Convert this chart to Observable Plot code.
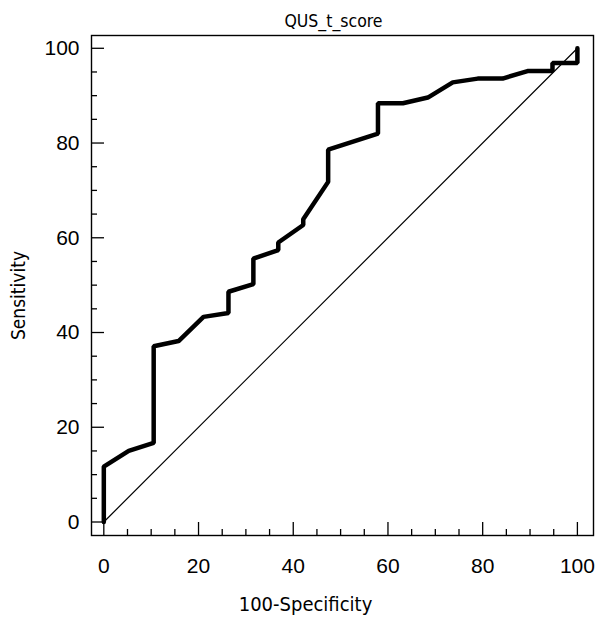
<!DOCTYPE html>
<html>
<head>
<meta charset="utf-8">
<script src="https://cdn.jsdelivr.net/npm/d3@7"></script>
<script src="https://cdn.jsdelivr.net/npm/@observablehq/plot@0.6"></script>
<style>
  html, body { margin: 0; padding: 0; background: white; }
</style>
</head>
<body>
<div id="chart"></div>
<script>
// ROC curve: 100-Specificity (x) vs Sensitivity (y)
const rocX = [0, 0, 5.26, 10.53, 10.53, 15.79, 21.05, 26.32, 26.32, 31.58, 31.58, 36.84, 36.84, 42.11, 42.11, 47.37, 47.37, 57.89, 57.89, 63.16, 68.42, 73.68, 78.95, 84.21, 89.47, 94.74, 94.74, 100, 100];
const rocY = [0, 11.7, 15.0, 16.7, 37.1, 38.2, 43.3, 44.1, 48.6, 50.2, 55.6, 57.4, 59.0, 62.7, 63.9, 71.8, 78.6, 82.0, 88.4, 88.4, 89.6, 92.8, 93.6, 93.6, 95.2, 95.2, 96.9, 96.9, 100];
const diagX = [0, 100];
const diagY = [0, 100];

const xMajor = [0, 20, 40, 60, 80, 100];
const xMinor = [5, 10, 15, 25, 30, 35, 45, 50, 55, 65, 70, 75, 85, 90, 95];
const yMajor = [0, 20, 40, 60, 80, 100];
const yMinor = [5, 10, 15, 25, 30, 35, 45, 50, 55, 65, 70, 75, 85, 90, 95];

const title = "QUS_t_score";
const xLabel = "100-Specificity";
const yLabel = "Sensitivity";

const roc = rocX.map((x, i) => ({x, y: rocY[i]}));
const diag = diagX.map((x, i) => ({x, y: diagY[i]}));

const W = 600, H = 617, mL = 91, mR = 7, mT = 35, mB = 82;
const fw = W - mL - mR, fh = H - mT - mB;
const condensed = "'DejaVu Sans Condensed', 'DejaVu Sans', sans-serif";

const chart = Plot.plot({
  width: W, height: H,
  marginLeft: mL, marginRight: mR, marginTop: mT, marginBottom: mB,
  style: {fontFamily: "'Liberation Sans', Arial, sans-serif", background: "white", color: "black"},
  x: {domain: [-2.6, 103.4], axis: null},
  y: {domain: [-2.85, 102.7], axis: null},
  marks: [
    Plot.frame({stroke: "black", strokeWidth: 1.4}),
    Plot.tickX(xMajor, {x: d => d, insetTop: fh - 13, stroke: "black", strokeWidth: 1.3}),
    Plot.tickX(xMinor, {x: d => d, insetTop: fh - 6, stroke: "black", strokeWidth: 1.3}),
    Plot.tickY(yMajor, {y: d => d, insetRight: fw - 13, stroke: "black", strokeWidth: 1.3}),
    Plot.tickY(yMinor, {y: d => d, insetRight: fw - 6, stroke: "black", strokeWidth: 1.3}),
    Plot.text(xMajor, {x: d => d, text: d => String(d), frameAnchor: "bottom", lineAnchor: "middle", dy: 31, fontSize: 21, fill: "black"}),
    Plot.text(yMajor, {y: d => d, text: d => String(d), frameAnchor: "left", lineAnchor: "middle", dx: -12, textAnchor: "end", fontSize: 21, fill: "black"}),
    Plot.line(diag, {x: "x", y: "y", stroke: "black", strokeWidth: 1.2}),
    Plot.line(roc, {x: "x", y: "y", stroke: "black", strokeWidth: 4.5, strokeLinejoin: "miter"}),
    Plot.text([title], {frameAnchor: "top", lineAnchor: "middle", textAnchor: "middle", dx: -9, dy: -14, fontSize: 17.5, fill: "black", fontFamily: condensed}),
    Plot.text([xLabel], {frameAnchor: "bottom", lineAnchor: "middle", textAnchor: "middle", dx: -37, dy: 69, fontSize: 20, fill: "black", fontFamily: condensed}),
    Plot.text([yLabel], {frameAnchor: "left", lineAnchor: "middle", textAnchor: "middle", dx: -73, dy: 10, rotate: -90, fontSize: 19, fill: "black", fontFamily: condensed})
  ]
});
document.getElementById("chart").appendChild(chart);
</script>
</body>
</html>
